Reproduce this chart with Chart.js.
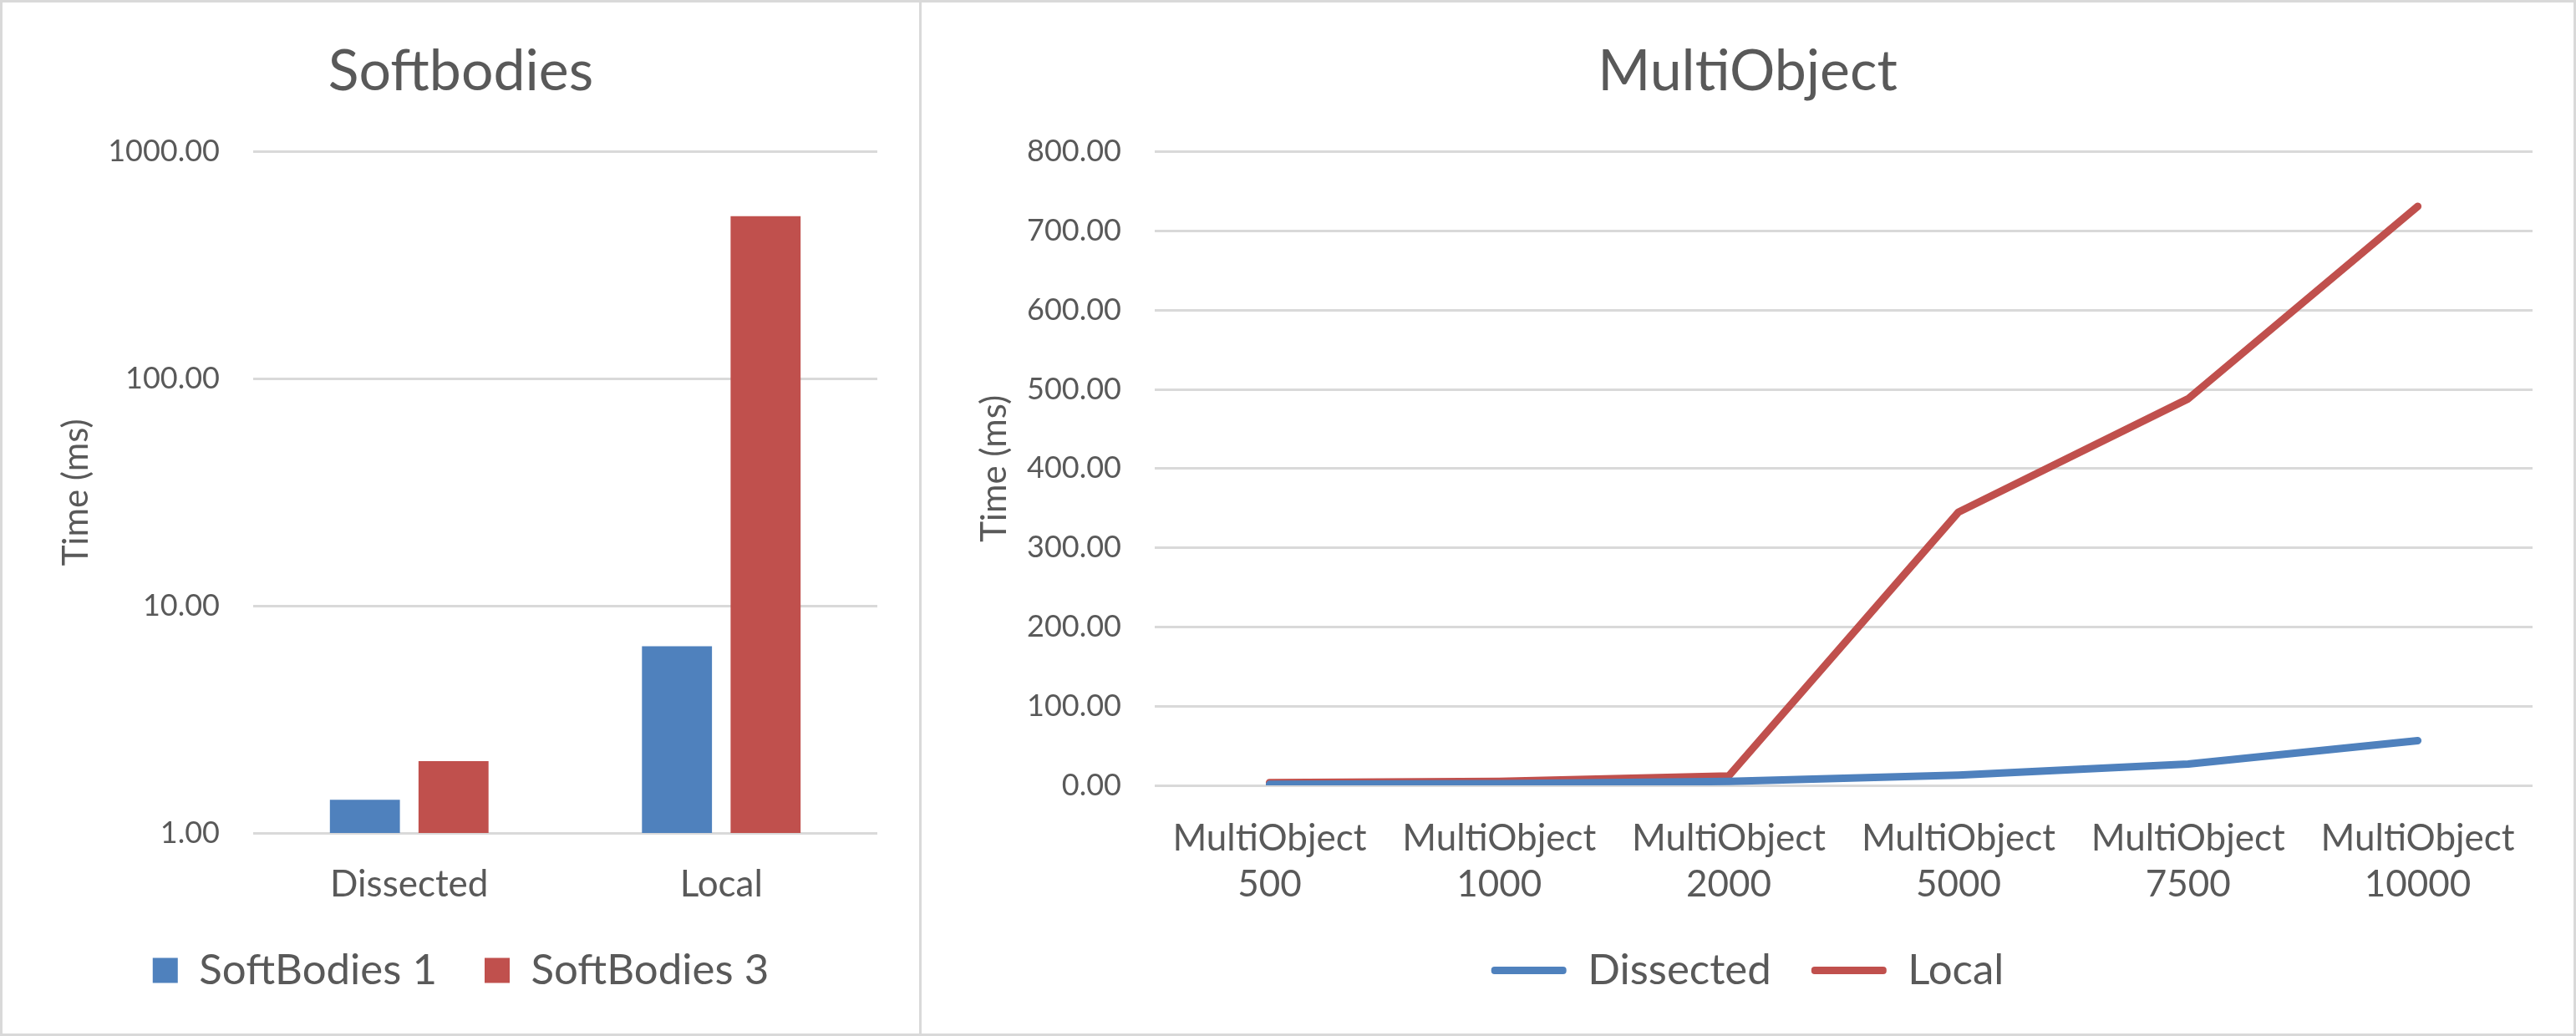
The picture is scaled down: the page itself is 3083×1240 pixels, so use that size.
<!DOCTYPE html>
<html>
<head>
<meta charset="utf-8">
<script src="https://cdn.jsdelivr.net/npm/chart.js@4/dist/chart.umd.min.js"></script>
<style>
  html, body { margin: 0; padding: 0; background: #fff; }
  .panel { position: absolute; top: 0; height: 1240px; box-sizing: border-box; border: 3px solid #d9d9d9; background: #fff; }
  #leftPanel { left: 0; width: 1103px; }
  #rightPanel { left: 1100px; width: 1983px; }
  .panel div { position: relative; width: 100%; height: 100%; }
</style>
</head>
<body>
<div class="panel" id="leftPanel"><div><canvas id="softChart"></canvas></div></div>
<div class="panel" id="rightPanel"><div><canvas id="multiChart"></canvas></div></div>
<script>
// Softbodies (log scale bars)
const softCategories = ['Dissected', 'Local'];
const softBodies1 = [1.40, 6.64];
const softBodies3 = [2.07, 520];
const softTicks = [1, 10, 100, 1000];

// MultiObject (lines)
const multiLabels = [
  ['MultiObject', '500'], ['MultiObject', '1000'], ['MultiObject', '2000'],
  ['MultiObject', '5000'], ['MultiObject', '7500'], ['MultiObject', '10000']
];
const dissected = [1.2, 2.0, 5.0, 13.0, 27.0, 56.5];
const local = [3.5, 5.0, 12.0, 345, 488, 731];

const blue = '#4f81bd';
const red = '#c0504d';
const textColor = '#595959';
const gridColor = '#d9d9d9';
const fontFamily = 'Lato, "Open Sans", sans-serif';

Chart.defaults.font.family = fontFamily;
Chart.defaults.color = textColor;

function yTitle(pad) {
  return { display: true, text: 'Time (ms)', color: textColor,
           font: { size: 42 }, padding: { top: pad, bottom: 0 } };
}

// empty right axis, only keeps space on the right so the legend stays centred
function spacer(w) {
  return { position: 'right', display: true, grid: { display: false }, border: { display: false },
           ticks: { display: false }, afterFit: (s) => { s.width = w; } };
}

new Chart(document.getElementById('softChart'), {
  type: 'bar',
  data: {
    labels: softCategories,
    datasets: [
      { label: 'SoftBodies 1', data: softBodies1, backgroundColor: blue,
        categoryPercentage: 0.568, barPercentage: 0.79 },
      { label: 'SoftBodies 3', data: softBodies3, backgroundColor: red,
        categoryPercentage: 0.568, barPercentage: 0.79 }
    ]
  },
  options: {
    responsive: true,
    maintainAspectRatio: false,
    animation: false,
    layout: { padding: { top: 0, left: 0, right: 0, bottom: 40 } },
    plugins: {
      tooltip: { enabled: false },
      title: { display: true, text: 'Softbodies', color: textColor,
               font: { size: 68, weight: 'normal' }, padding: { top: 42, bottom: 55 } },
      legend: {
        position: 'bottom',
        labels: { color: textColor, font: { size: 51 }, boxWidth: 30, boxHeight: 30, padding: 57 }
      }
    },
    scales: {
      x: {
        grid: { display: false },
        border: { display: false },
        ticks: { color: textColor, font: { size: 44 }, padding: 27 },
        afterFit: (s) => { s.height = 82; }
      },
      y: {
        type: 'logarithmic',
        min: 1,
        max: 1000,
        afterBuildTicks: (s) => { s.ticks = softTicks.map(v => ({ value: v })); },
        grid: { color: gridColor, lineWidth: 3, drawTicks: false },
        border: { display: false },
        ticks: { color: textColor, font: { size: 36 }, padding: 40,
                 callback: (v) => Number(v).toFixed(2) },
        title: yTitle(63),
        afterFit: (s) => { s.width = 300; }
      },
      pad: spacer(50)
    }
  }
});

new Chart(document.getElementById('multiChart'), {
  type: 'line',
  data: {
    labels: multiLabels,
    datasets: [
      { label: 'Dissected', data: dissected, borderColor: blue, backgroundColor: blue,
        borderWidth: 9, pointRadius: 0, tension: 0, borderJoinStyle: 'round', borderCapStyle: 'round' },
      { label: 'Local', data: local, borderColor: red, backgroundColor: red,
        borderWidth: 9, pointRadius: 0, tension: 0, borderJoinStyle: 'round', borderCapStyle: 'round' }
    ]
  },
  options: {
    responsive: true,
    maintainAspectRatio: false,
    animation: false,
    layout: { padding: { top: 0, left: 0, right: 0, bottom: 40 } },
    plugins: {
      tooltip: { enabled: false },
      title: { display: true, text: 'MultiObject', color: textColor,
               font: { size: 68, weight: 'normal' }, padding: { top: 42, bottom: 55 } },
      legend: {
        position: 'bottom',
        labels: {
          color: textColor, font: { size: 51 }, boxWidth: 90, boxHeight: 9, padding: 48,
          useBorderRadius: true, borderRadius: 4,
          generateLabels: (chart) => chart.data.datasets.map((ds, i) => ({
            text: ds.label, fillStyle: ds.borderColor, strokeStyle: ds.borderColor,
            lineWidth: 0, fontColor: textColor, datasetIndex: i, borderRadius: 4
          }))
        }
      }
    },
    scales: {
      x: {
        offset: true,
        grid: { display: false },
        border: { display: false },
        ticks: { color: textColor, font: { size: 44, lineHeight: 1.25 }, padding: 28, maxRotation: 0, autoSkip: false },
        afterFit: (s) => { s.height = 148; }
      },
      y: {
        min: 0,
        max: 800,
        grid: { color: gridColor, lineWidth: 3, drawTicks: false },
        border: { display: false },
        ticks: { color: textColor, font: { size: 36 }, padding: 40, stepSize: 100,
                 callback: (v) => Number(v).toFixed(2) },
        title: yTitle(62),
        afterFit: (s) => { s.width = 279; }
      },
      pad: spacer(49)
    }
  }
});
</script>
</body>
</html>
